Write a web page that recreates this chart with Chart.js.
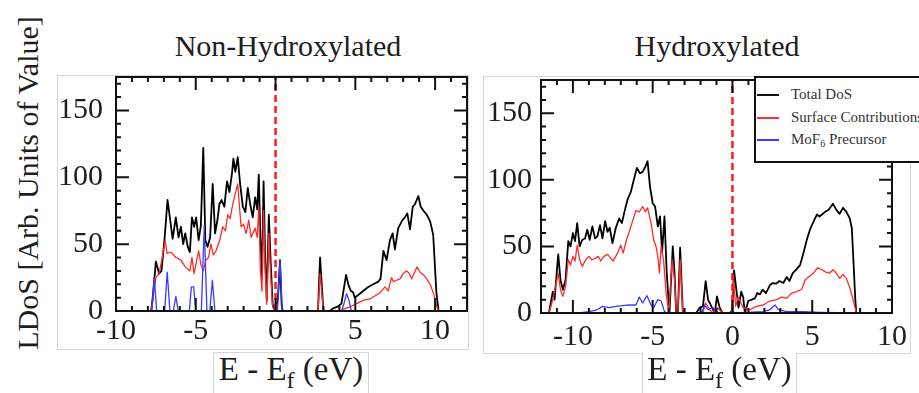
<!DOCTYPE html>
<html>
<head>
<meta charset="utf-8">
<script src="https://cdn.jsdelivr.net/npm/chart.js@4.4.0/dist/chart.umd.min.js"></script>
<style>
  body { margin: 0; width: 919px; height: 393px; overflow: hidden; background: #fff; position: relative;
         font-family: 'Liberation Serif', 'Times New Roman', serif; color: #1e1e1e; }
  .box { position: absolute; border: 1px solid #d6d6d6; box-sizing: border-box; background: #fff; }
  canvas { position: absolute; }
  .title { position: absolute; top: 31px; font-size: 30px; line-height: 30px; white-space: nowrap; transform: translateX(-50%); }
  .ylab { position: absolute; left: 28px; top: 183px; font-size: 30px; line-height: 30px; white-space: nowrap;
          transform: translate(-50%, -50%) rotate(-90deg); }
  .xlab { font-size: 33px; line-height: 33px; text-align: center; white-space: nowrap; }
  .xlab .sub { font-size: 24px; position: relative; top: 8px; }
  .legend { position: absolute; left: 754px; top: 76px; width: 200px; height: 87px; box-sizing: border-box;
            border: 2px solid #111; background: #fff; font-size: 15px; color: #333; }
  .legend .row { position: absolute; left: 0; height: 15px; line-height: 15px; white-space: nowrap; }
  .legend .swatch { position: absolute; left: 1px; width: 22px; top: 7px; }
  .legend .lbl { position: absolute; left: 35px; top: 0; }
  .legend .lbl sub { font-size: 10px; vertical-align: -3px; line-height: 0; }
</style>
</head>
<body>
<div class="ylab">LDoS [Arb. Units of Value]</div>
<div class="title" style="left:288px">Non-Hydroxylated</div>
<div class="title" style="left:717px">Hydroxylated</div>

<div class="box" style="left:57px;top:75px;width:412px;height:275px"></div>
<div class="box" style="left:483px;top:76px;width:428px;height:278px"></div>
<canvas id="nonChart" width="411" height="274" style="left:57px;top:75px"></canvas>
<canvas id="hydChart" width="427" height="277" style="left:483px;top:76px"></canvas>

<div class="box xlab" style="left:213px;top:352px;width:156px;height:60px">E - E<span class="sub">f</span> (eV)</div>
<div class="box xlab" style="left:642px;top:352px;width:155px;height:60px;border-top-color:#fff">E - E<span class="sub">f</span> (eV)</div>

<div class="legend">
  <div class="row" style="top:9px"><div class="swatch" style="height:2px;background:#111"></div><span class="lbl">Total DoS</span></div>
  <div class="row" style="top:32px"><div class="swatch" style="height:1.5px;background:#ff3030"></div><span class="lbl">Surface Contributions</span></div>
  <div class="row" style="top:54px"><div class="swatch" style="height:1.5px;background:#3a3aff"></div><span class="lbl">MoF<sub>6</sub> Precursor</span></div>
</div>

<script>
// energy (eV) / LDoS pairs
const nonTotal = [
  [-10,0],[-7.8,0],[-7.7,10],[-7.5,37],[-7.3,28],[-7.15,30],[-6.95,55],[-6.77,83],[-6.6,68],[-6.45,54],
  [-6.25,70],[-6.08,55],[-5.93,63],[-5.79,50],[-5.66,58],[-5.5,48],[-5.37,44],[-5.24,70],[-5.1,63],[-4.98,70],
  [-4.82,53],[-4.68,64],[-4.53,122],[-4.4,53],[-4.26,48],[-4.1,55],[-3.94,95],[-3.79,58],[-3.63,69],[-3.52,80],
  [-3.38,83],[-3.21,78],[-3.04,97],[-2.89,89],[-2.73,103],[-2.64,114],[-2.52,104],[-2.37,115],[-2.22,95],[-2.05,78],
  [-1.89,74],[-1.74,92],[-1.59,80],[-1.43,70],[-1.28,85],[-1.15,76],[-1.05,102],[-0.95,55],[-0.85,25],[-0.75,97],
  [-0.65,40],[-0.55,8],[-0.42,72],[-0.3,35],[-0.18,5],[-0.05,0],[0.05,3],[0.15,10],[0.28,38],[0.38,5],
  [0.45,0],[2.66,0],[2.79,40],[3.0,0],[3.4,0],[3.6,2],[3.92,3.5],[4.13,5.5],[4.42,27],[4.58,19],
  [4.72,15],[4.86,14],[4.97,10],[5.18,12],[5.49,15],[5.81,18],[6.12,20],[6.44,22],[6.58,24],[6.76,45],
  [6.96,38],[7.17,53],[7.34,58],[7.48,46],[7.69,62],[7.95,68],[8.11,70],[8.26,73],[8.43,61],[8.6,78],
  [8.74,80],[8.95,86],[9.1,78],[9.27,75],[9.48,72],[9.69,67],[9.88,57],[9.97,38],[10.08,14],[10.22,0],[12,0]
];
const nonSurf = [
  [-10,0],[-7.8,0],[-7.7,8],[-7.5,25],[-7.3,28],[-7.1,40],[-6.92,53],[-6.8,43],[-6.56,44],[-6.25,40],
  [-5.93,38],[-5.66,33],[-5.37,30],[-5.24,40],[-5.11,28],[-4.82,45],[-4.68,35],[-4.53,30],[-4.37,38],[-4.2,40],
  [-4.05,50],[-3.9,42],[-3.73,45],[-3.52,52],[-3.31,63],[-3.14,60],[-3.0,72],[-2.85,69],[-2.68,80],[-2.52,88],
  [-2.37,95],[-2.26,78],[-2.16,63],[-2.01,65],[-1.84,58],[-1.68,68],[-1.53,55],[-1.43,58],[-1.28,62],[-1.15,55],
  [-1.05,78],[-0.95,30],[-0.85,15],[-0.75,75],[-0.65,30],[-0.55,5],[-0.42,58],[-0.3,25],[-0.18,3],[-0.05,0],
  [2.66,0],[2.79,28],[3.0,0],[4.0,0],[4.4,2],[4.65,3],[5.07,5.5],[5.49,8],[5.91,9],[6.33,12],
  [6.54,13.5],[6.86,18],[7.06,15],[7.27,25],[7.38,22],[7.58,23],[7.8,24],[8.0,28],[8.22,30],[8.39,28],
  [8.53,24],[8.68,28],[8.87,33],[9.06,29],[9.27,27],[9.48,24],[9.69,20],[9.9,13],[10.1,4],[10.2,0],[12,0]
];
const nonMoF = [
  [-10,0],[-7.75,0],[-7.6,25],[-7.45,0],[-6.95,0],[-6.79,29],[-6.62,0],[-6.4,0],[-6.25,11],[-6.1,0],
  [-5.4,0],[-5.28,18],[-5.13,18],[-5.0,0],[-4.65,0],[-4.47,64],[-4.3,0],[-4.12,0],[-3.96,23],[-3.8,0],
  [0.12,0],[0.28,38],[0.42,0],[4.15,0],[4.3,6],[4.45,13],[4.6,8],[4.75,0],[12,0]
];

const hydTotal = [
  [-12,0],[-11.5,0],[-11.26,16],[-11.15,10],[-10.92,44],[-10.78,25],[-10.63,17.5],[-10.46,25],[-10.29,54],[-10.15,50],
  [-10.0,60],[-9.87,54],[-9.73,67.5],[-9.58,50],[-9.41,55],[-9.24,56],[-9.1,62.5],[-8.95,55],[-8.78,65],[-8.61,56],
  [-8.47,57.5],[-8.3,66],[-8.15,56],[-7.98,69],[-7.83,61],[-7.69,64],[-7.52,52.5],[-7.31,64],[-7.1,71],[-6.93,67.5],
  [-6.79,75],[-6.58,85],[-6.37,91],[-6.16,101],[-5.99,109],[-5.8,105],[-5.63,106],[-5.46,110],[-5.32,114],[-5.17,95],
  [-5.0,82.5],[-4.85,80],[-4.68,65],[-4.54,72.5],[-4.41,46],[-4.26,72.5],[-4.12,30],[-3.95,0],[-3.74,50],[-3.63,30],
  [-3.53,0],[-3.42,0],[-3.28,49],[-3.11,0],[-2.27,0],[-2.06,4],[-1.85,5],[-1.68,24],[-1.53,10],[-1.32,5],
  [-1.11,0],[-0.97,12.5],[-0.8,4],[-0.63,0],[-0.02,0],[0.1,32],[0.25,17],[0.38,4],[0.55,16],[0.67,12],
  [0.78,0],[0.99,9],[1.2,10],[1.41,11],[1.55,15],[1.72,14],[1.89,17.5],[2.1,15],[2.35,21],[2.52,22.5],
  [2.73,22],[2.94,24],[3.19,22.5],[3.4,27],[3.57,24],[3.78,30],[3.95,32],[4.24,36],[4.45,45],[4.66,55],
  [4.87,63],[5.13,70],[5.3,74],[5.45,72.5],[5.61,74],[5.82,76],[6.03,77.5],[6.3,82],[6.51,77.5],[6.72,74.5],
  [6.93,79],[7.14,76],[7.35,71],[7.48,64],[7.6,35],[7.7,10],[7.76,0],[10,0]
];
const hydSurf = [
  [-12,0],[-11.5,0],[-11.26,10],[-10.92,30],[-10.78,17.5],[-10.63,12.5],[-10.46,20],[-10.29,40],[-10.15,36],[-10.0,42.5],
  [-9.87,39],[-9.73,51],[-9.58,40],[-9.41,35],[-9.2,40],[-9.0,42.5],[-8.82,40],[-8.61,41],[-8.4,42.5],[-8.26,39],
  [-8.05,42.5],[-7.83,44],[-7.62,41],[-7.48,39],[-7.2,45],[-7.0,51],[-6.85,45],[-6.64,55],[-6.43,62.5],[-6.22,70.5],
  [-6.05,77],[-5.84,76],[-5.63,80],[-5.46,76],[-5.32,79],[-5.1,67.5],[-4.94,55],[-4.79,50],[-4.68,42.5],[-4.58,30],
  [-4.47,50],[-4.32,40],[-4.16,15],[-3.99,0],[-3.78,40],[-3.63,25],[-3.53,0],[-3.42,0],[-3.28,40],[-3.11,0],
  [-1.85,0],[-1.68,7.5],[-1.43,2.5],[-1.22,0],[-0.97,4],[-0.6,0],[-0.02,0],[0.06,27.5],[0.2,5],[0.36,12],
  [0.67,4],[1.09,2.5],[1.51,5],[1.93,6],[2.35,9],[2.77,10],[3.09,12],[3.4,11],[3.72,15],[4.03,16],
  [4.35,18],[4.56,25],[4.87,28],[5.08,30],[5.34,34],[5.61,32.5],[5.88,30.5],[6.09,30],[6.3,32.5],[6.51,30],
  [6.72,26],[6.93,29],[7.14,26],[7.38,18],[7.56,10],[7.77,0],[10,0]
];
const hydMoF = [
  [-12,0],[-9.6,0],[-9.0,1],[-8.6,2],[-8.4,3],[-8.15,5],[-7.73,4],[-7.31,5],[-6.89,5.5],[-6.47,6],
  [-6.05,6],[-5.84,12],[-5.63,7.5],[-5.36,13],[-5.1,6],[-4.94,4],[-4.68,10],[-4.47,9],[-4.26,1],[-4.05,0],
  [-2.1,0],[-1.9,1],[-1.74,6],[-1.53,2.5],[-1.22,4],[-0.9,0],[-0.2,0],[-0.06,2],[0.15,0],[1.93,1],
  [2.35,2.5],[2.67,6],[2.88,2.5],[3.4,1],[4.45,1],[5.5,0.5],[7.7,0],[10,0]
];

const fermiLevel = 0;
const yRange = [0, 175];
const yTicks = [0, 50, 100, 150];
const nonRange = [-10, 12];
const nonTicks = [-10, -5, 0, 5, 10];
const hydRange = [-12, 10];
const hydTicks = [-10, -5, 0, 5, 10];

const FONT = "'Liberation Serif', 'Times New Roman', serif";

// boxed frame with inward major/minor ticks on all four sides
const frameTicks = {
  id: 'frameTicks',
  afterDraw(chart, args, opts) {
    const { ctx, chartArea: a, scales: { x, y } } = chart;
    ctx.save();
    ctx.strokeStyle = '#111';
    ctx.lineWidth = 2;
    ctx.beginPath();
    for (let v = Math.ceil(x.min); v <= x.max; v += 1) {
      const px = x.getPixelForValue(v);
      const len = opts.xMajor.includes(v) ? 13 : 5;
      ctx.moveTo(px, a.bottom); ctx.lineTo(px, a.bottom - len);
      ctx.moveTo(px, a.top); ctx.lineTo(px, a.top + len);
    }
    for (let v = y.min; v <= y.max; v += 10) {
      const py = y.getPixelForValue(v);
      const len = opts.yMajor.includes(v) ? 13 : 5;
      ctx.moveTo(a.left, py); ctx.lineTo(a.left + len, py);
      ctx.moveTo(a.right, py); ctx.lineTo(a.right - len, py);
    }
    ctx.stroke();
    ctx.strokeRect(a.left, a.top, a.right - a.left, a.bottom - a.top);
    ctx.restore();
  }
};

const toPts = arr => arr.map(([x, y]) => ({ x, y }));

function makePanel(id, series, range, xTicks, fit) {
  const line = (data, color, width, order) => ({
    data: toPts(data), borderColor: color, borderWidth: width, pointRadius: 0,
    tension: 0, borderJoinStyle: 'round', order
  });
  return new Chart(document.getElementById(id), {
    type: 'line',
    data: {
      datasets: [
        line(series[0], '#000', 1.8, 4),
        line(series[1], '#ff2a2a', 1.3, 3),
        line(series[2], '#3a3aff', 1.3, 2),
        {
          data: [{ x: fermiLevel, y: yRange[0] }, { x: fermiLevel, y: yRange[1] }],
          borderColor: '#ff1a1a', borderWidth: 2.5, borderDash: [7, 4], pointRadius: 0, order: 1
        }
      ]
    },
    options: {
      responsive: false,
      animation: false,
      events: [],
      layout: { padding: { top: fit.top, right: fit.right, left: 0, bottom: 0 } },
      plugins: {
        legend: { display: false },
        tooltip: { enabled: false },
        frameTicks: { xMajor: xTicks, yMajor: yTicks }
      },
      scales: {
        x: {
          type: 'linear', min: range[0], max: range[1],
          grid: { display: false, drawTicks: false },
          border: { display: false },
          afterBuildTicks: s => { s.ticks = xTicks.map(value => ({ value })); },
          afterFit: s => { s.height = fit.xh; s.paddingLeft = 0; s.paddingRight = 0; },
          ticks: { padding: fit.xpad, maxRotation: 0, autoSkip: false, color: '#1e1e1e',
                   font: { family: FONT, size: 30 } }
        },
        y: {
          min: yRange[0], max: yRange[1],
          grid: { display: false, drawTicks: false },
          border: { display: false },
          afterBuildTicks: s => { s.ticks = yTicks.map(value => ({ value })); },
          afterFit: s => { s.width = fit.yw; s.paddingTop = 0; s.paddingBottom = 0; },
          ticks: { padding: fit.ypad, color: '#1e1e1e', font: { family: FONT, size: 30 } }
        }
      }
    },
    plugins: [frameTicks]
  });
}

makePanel('nonChart', [nonTotal, nonSurf, nonMoF], nonRange, nonTicks,
  { top: 2, right: 1, xh: 38, yw: 59, xpad: 2, ypad: 13 });
makePanel('hydChart', [hydTotal, hydSurf, hydMoF], hydRange, hydTicks,
  { top: 4, right: 18, xh: 40, yw: 58, xpad: 6, ypad: 9 });
</script>
</body>
</html>
